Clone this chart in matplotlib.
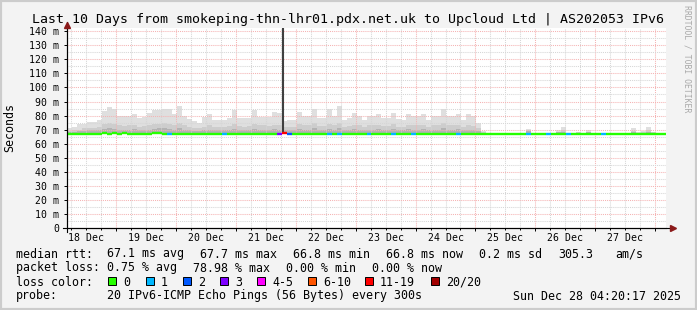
import numpy as np
import matplotlib.pyplot as plt
from matplotlib.patches import Rectangle

# time axis: hours after 18 Dec 00:00, 2 hour steps from 18 Dec 04:20
t_start = 4.34
step = 2.0

# smoke layers (ms) and median rtt per step
smoke_max = [71, 72, 74, 74, 75.5, 75.5, 77, 83, 86, 85,
             80, 79.5, 79.5, 81, 78, 79, 82, 84, 84, 85,
             85, 81, 87, 80, 77.5, 76, 75, 79, 81, 76.5,
             76.5, 77, 78, 84, 78, 78, 78, 84, 79, 79,
             79, 82.5, 82, 76, 77, 77, 82.5, 80, 79.5, 85,
             78, 78, 85, 80, 87, 76.5, 78, 82, 80, 77,
             79.5, 79.5, 81, 78.5, 78.5, 82, 77.5, 77, 81, 79.5,
             80, 81, 77, 80, 80, 85, 79.5, 79.5, 81, 77,
             81, 80, 75, 69, 67, 67, 67, 67, 67, 67,
             67, 67, 70.5, 67, 67, 67, 67, 67, 70, 72,
             67, 67, 68.5, 67, 69.5, 67, 67, 67, 67, 67,
             67, 67, 67, 71, 68, 69, 72, 68.5, 67, 67]

smoke_mid = [69, 70, 70, 71, 71, 71.5, 72, 74, 75, 74,
             73, 72.5, 73, 73, 72, 72.5, 73, 74, 74, 75,
             74, 73, 75, 73, 72, 71.5, 71, 72, 73, 72,
             72, 72, 72.5, 74, 72.5, 72, 72.5, 74, 73, 73,
             72.5, 73.5, 73, 72, 72, 72, 74, 73, 73, 75,
             72.5, 72.5, 74, 73, 75, 72, 72.5, 73.5, 73, 72,
             73, 73, 73.5, 72.5, 72.5, 74, 72, 72, 73.5, 73,
             73, 73.5, 72, 73, 73, 74.5, 73, 73, 73.5, 72,
             73, 72.5, 71, 68, 67, 67, 67, 67, 67, 67,
             67, 67, 69.5, 67, 67, 67, 67, 67, 68.5, 70,
             67, 67, 68, 67, 68.5, 67, 67, 67, 67, 67,
             67, 67, 67, 69, 67.5, 68, 70, 68, 67, 67]

smoke_low = [68, 68.5, 69, 69, 69.5, 69.5, 70, 70.5, 71, 70.5,
             70, 69.5, 70, 70.5, 69.5, 70, 70, 70.5, 71, 71,
             70.5, 70, 71, 70, 69.5, 69, 69, 69.5, 70, 69.5,
             69.5, 69.5, 70, 70.5, 70, 69.5, 70, 70.5, 70, 70,
             69.5, 70.5, 70, 69.5, 69.5, 69.5, 70.5, 70, 70, 71,
             69.5, 70, 70.5, 70, 71, 69.5, 70, 70.5, 70, 69.5,
             70, 70, 70.5, 69.5, 70, 70.5, 69.5, 69.5, 70.5, 70,
             70, 70.5, 69.5, 70, 70, 71, 70, 70, 70.5, 69.5,
             70, 69.5, 69, 67.5, 67, 67, 67, 67, 67, 67,
             67, 67, 69, 67, 67, 67, 67, 67, 68, 68.5,
             67, 67, 67.5, 67, 68, 67, 67, 67, 67, 67,
             67, 67, 67, 68, 67, 67.5, 68.5, 67.5, 67, 67]

median = [67.0, 67.0, 67.0, 67.0, 67.0, 67.0, 67.0, 67.5, 67.0, 67.5,
          67.0, 67.5, 67.0, 67.0, 67.0, 67.0, 67.0, 67.5, 67.5, 67.0,
          67.0, 67.0, 67.0, 67.0, 67.0, 67.0, 67.0, 67.0, 67.0, 67.0,
          67.0, 67.0, 67.0, 67.0, 67.0, 67.0, 67.0, 67.0, 67.0, 67.0,
          67.0, 67.0, 67.0, 67.7, 67.0, 67.0, 67.0, 67.0, 67.0, 67.0,
          67.0, 67.0, 67.0, 67.0, 67.0, 67.0, 67.0, 67.0, 67.0, 67.0,
          67.0, 67.0, 67.0, 67.0, 67.0, 67.0, 67.0, 67.0, 67.0, 67.0,
          67.0, 67.0, 67.0, 67.0, 67.0, 67.0, 67.0, 67.0, 67.0, 67.0,
          67.0, 67.0, 67.0, 67.0, 67.0, 67.0, 67.0, 67.0, 67.0, 67.0,
          67.0, 67.0, 67.0, 67.0, 67.0, 67.0, 67.0, 67.0, 67.0, 67.0,
          67.0, 67.0, 67.0, 67.0, 67.0, 67.0, 67.0, 67.0, 67.0, 67.0,
          67.0, 67.0, 67.0, 67.0, 67.0, 67.0, 67.0, 67.0, 67.0, 67.0]

# lost pings (of 20) per step
loss = [0, 0, 0, 0, 0, 0, 0, 0, 0, 0,
        0, 0, 0, 0, 0, 0, 0, 0, 0, 0,
        1, 0, 0, 0, 0, 0, 0, 0, 0, 0,
        0, 1, 0, 0, 0, 0, 0, 0, 0, 0,
        0, 0, 3, 15, 2, 0, 0, 0, 0, 0,
        0, 0, 1, 0, 1, 0, 0, 0, 0, 0,
        1, 0, 0, 0, 0, 1, 0, 0, 0, 1,
        0, 0, 0, 0, 0, 0, 0, 0, 1, 0,
        0, 0, 0, 0, 0, 0, 0, 0, 0, 0,
        0, 0, 1, 0, 0, 0, 1, 0, 0, 0,
        1, 0, 0, 0, 0, 0, 0, 1, 0, 0,
        0, 0, 0, 0, 0, 0, 0, 0, 0, 0]

# the one big outlier on 21 Dec
spike_hour = 90.8
spike_top = 145

day_labels = ['18 Dec', '19 Dec', '20 Dec', '21 Dec', '22 Dec',
              '23 Dec', '24 Dec', '25 Dec', '26 Dec', '27 Dec']
y_ticks = [0, 10, 20, 30, 40, 50, 60, 70, 80, 90, 100, 110, 120, 130, 140]

loss_names = ['0', '1', '2', '3', '4-5', '6-10', '11-19', '20/20']
loss_colors = ['#26ff00', '#00b8ff', '#0059ff', '#7e00ff',
               '#ff00ff', '#ff5500', '#ff0000', '#a10000']


def loss_color(n):
    if n == 0:
        return loss_colors[0]
    if n <= 3:
        return loss_colors[n]
    if n <= 5:
        return loss_colors[4]
    if n <= 10:
        return loss_colors[5]
    if n <= 19:
        return loss_colors[6]
    return loss_colors[7]


W, H = 697, 310
MONO = 'DejaVu Sans Mono'
plt.rcParams['font.family'] = MONO

fig = plt.figure(figsize=(W / 100, H / 100), dpi=100, facecolor='#f3f3f3')
ax = fig.add_axes([67 / W, 1 - 228 / H, 599 / W, 200 / H])
ax.set_facecolor('white')

n = len(median)
t = t_start + step * np.arange(n)
med = np.array(median)

# smoke
ax.bar(t, np.array(smoke_max) - med, width=step, bottom=med, align='edge',
       color='#dfdfdf', linewidth=0, zorder=1)
ax.bar(t, np.array(smoke_mid) - med, width=step, bottom=med, align='edge',
       color='#cdcdcd', linewidth=0, zorder=1)
ax.bar(t, np.array(smoke_low) - med, width=step, bottom=med, align='edge',
       color='#b3b3b3', linewidth=0, zorder=1)
ax.vlines(spike_hour, median[43], spike_top, color='#404040', linewidth=1.5,
          zorder=2.8)

# median line coloured by loss
ax.hlines(med, t, t + step, colors=[loss_color(v) for v in loss],
          linewidth=1.7, zorder=3)

ax.set_xlim(t_start, t_start + step * n)
ax.set_ylim(0, 142.3)

# grid
ax.set_xticks(np.arange(24, 241, 24))
ax.set_xticks(np.arange(6, 244, 6), minor=True)
ax.set_yticks(y_ticks)
ax.set_yticks(np.arange(5, 141, 10), minor=True)
ax.set_xticklabels([])
ax.set_yticklabels([f'{v} m' if v else '0' for v in y_ticks])
ax.set_axisbelow(False)
ax.grid(which='major', color='#f5b3b3', linestyle=(0, (1, 1)), linewidth=0.75)
ax.grid(which='minor', color='#d6d6d6', linestyle=(0, (1, 1)), linewidth=0.75)
ax.tick_params(axis='x', which='major', length=2.5, width=0.7, direction='out')
ax.tick_params(axis='x', which='minor', length=1.5, width=0.7, direction='out')
ax.tick_params(axis='y', which='major', length=2, width=0.7, pad=3.5,
               labelsize=7.1)
ax.tick_params(axis='y', which='minor', length=0)

for s in ['top', 'right']:
    ax.spines[s].set_visible(False)
for s in ['left', 'bottom']:
    ax.spines[s].set_linewidth(0.8)

# axis extensions and arrows
ax.plot([0, 0], [-4 / 200, 1.03], transform=ax.transAxes, color='black',
        linewidth=0.8, clip_on=False, zorder=4)
ax.plot([-4 / 599, 1 + 8 / 599], [0, 0], transform=ax.transAxes, color='black',
        linewidth=0.8, clip_on=False, zorder=4)
ax.plot([0], [1 + 3 / 200], marker='^', markersize=4.5, color='#8b1a1a',
        transform=ax.transAxes, clip_on=False, zorder=5)
ax.plot([1 + 7 / 599], [0], marker='>', markersize=4.5, color='#8b1a1a',
        transform=ax.transAxes, clip_on=False, zorder=5)

# day labels at noon
for i, lab in enumerate(day_labels):
    ax.text(12 + 24 * i, -10 / 200, lab, transform=ax.get_xaxis_transform(),
            ha='center', va='center', fontsize=7.1)


def ptext(x, y, s, **kw):
    kw.setdefault('fontsize', 8.4)
    kw.setdefault('va', 'center')
    fig.text(x / W, 1 - y / H, s, **kw)


ptext(W / 2, 19, 'Last 10 Days from smokeping-thn-lhr01.pdx.net.uk to Upcloud Ltd | AS202053 IPv6',
      ha='center', fontsize=9.5)
ptext(10, 128, 'Seconds', ha='center', rotation=90)
ptext(687, 59, 'RRDTOOL / TOBI OETIKER', ha='center', rotation=270,
      fontsize=5.9, color='#a9a9a9')

# legend rows
ptext(16, 254, 'median rtt:')
ptext(107, 254, '67.1 ms avg')
ptext(200, 254, '67.7 ms max')
ptext(293, 254, '66.8 ms min')
ptext(386, 254, '66.8 ms now')
ptext(479, 254, '0.2 ms sd')
ptext(558, 254, '305.3')
ptext(615, 254, 'am/s')

ptext(16, 268, 'packet loss:')
ptext(107, 268, '0.75 % avg')
ptext(193, 268, '78.98 % max')
ptext(286, 268, '0.00 % min')
ptext(372, 268, '0.00 % now')

ptext(16, 282, 'loss color:')
sq_x = [108, 146, 183, 220, 257, 308, 365, 431]
for x, name, c in zip(sq_x, loss_names, loss_colors):
    fig.patches.append(Rectangle((x / W, 1 - 285 / H), 8 / W, 8 / H,
                                 transform=fig.transFigure, facecolor=c,
                                 edgecolor='black', linewidth=0.7))
    ptext(x + 15, 282, name)

ptext(16, 296, 'probe:')
ptext(107, 296, '20 IPv6-ICMP Echo Pings (56 Bytes) every 300s')
ptext(681, 296, 'Sun Dec 28 04:20:17 2025', ha='right')

# frame round the canvas
fig.patches.append(Rectangle((0, 0), 1, 1, transform=fig.transFigure,
                             fill=False, edgecolor='#cccccc', linewidth=3))

fig.savefig('out.png', dpi=100, facecolor=fig.get_facecolor())
